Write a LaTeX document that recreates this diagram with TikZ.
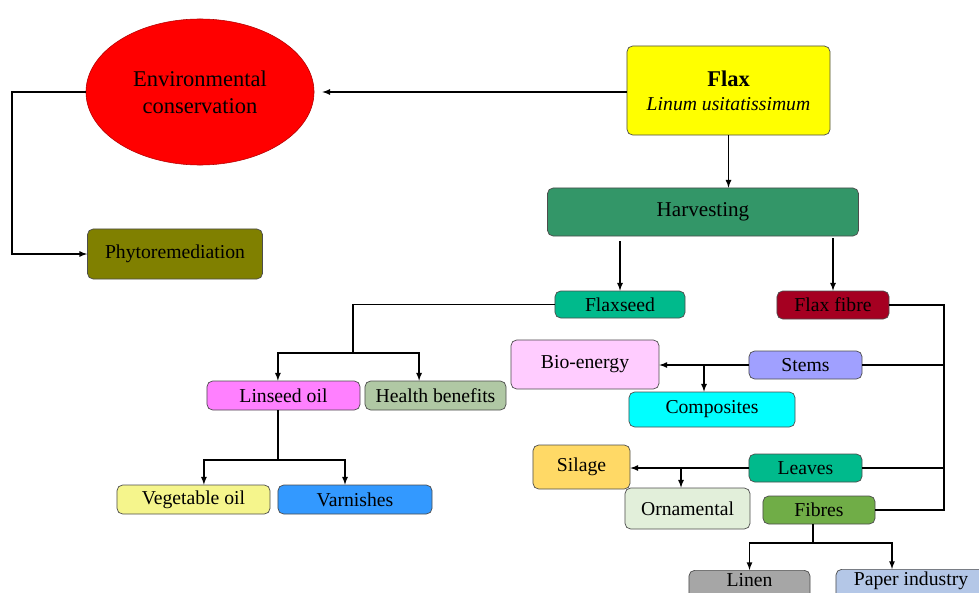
\documentclass[tikz,border=0pt]{standalone}
\usepackage{fontspec}
\setmainfont{Liberation Serif}
\usetikzlibrary{arrows,shapes.geometric}

\definecolor{flaxyellow}{RGB}{255,255,0}
\definecolor{harvgreen}{RGB}{51,150,104}
\definecolor{olivebox}{RGB}{128,128,0}
\definecolor{seedgreen}{RGB}{0,186,140}
\definecolor{fibrered}{RGB}{165,0,33}
\definecolor{biopink}{RGB}{255,204,255}
\definecolor{stemblue}{RGB}{160,160,255}
\definecolor{compcyan}{RGB}{0,255,255}
\definecolor{silageyel}{RGB}{255,217,102}
\definecolor{ornagreen}{RGB}{226,239,218}
\definecolor{fibresgreen}{RGB}{112,173,71}
\definecolor{linengray}{RGB}{166,166,166}
\definecolor{paperblue}{RGB}{180,199,231}
\definecolor{oilpink}{RGB}{255,128,255}
\definecolor{healthgreen}{RGB}{176,200,164}
\definecolor{vegyellow}{RGB}{245,245,140}
\definecolor{varnblue}{RGB}{51,153,255}

\begin{document}
\begin{tikzpicture}[x=0.025cm,y=-0.025cm]
\tikzstyle{every node}=[inner sep=1pt, font=\fontsize{14}{17}\selectfont]
\tikzstyle{box}=[draw=black!70, rounded corners=4pt, line width=0.5pt, minimum height=0.7cm]
\tikzstyle{cutbox}=[box, anchor=north, inner ysep=2pt, text depth=14pt]
\tikzstyle{link}=[line width=0.9pt]
\tikzstyle{arr}=[link,-latex]
\useasboundingbox (0,0) rectangle (979,592);

% top row
\draw (200,92) node (env) [ellipse, draw=red!70!black, fill=red, minimum width=5.7cm, minimum height=3.65cm, align=center, font=\fontsize{16}{19}\selectfont] {Environmental\\conservation};
\draw (728.5,90.5) node (flax) [box, fill=flaxyellow, minimum width=5.075cm, minimum height=2.225cm, align=center] {{\fontsize{16}{19}\selectfont\bfseries Flax}\\\itshape Linum usitatissimum};
\draw (703,212) node (harv) [box, fill=harvgreen, minimum width=7.775cm, minimum height=1.2cm, font=\fontsize{15}{18}\selectfont] {Harvesting};
\draw (175,254) node (phyto) [box, fill=olivebox, minimum width=4.375cm, minimum height=1.25cm] {Phytoremediation};

% second level
\draw (620,304.5) node (seed) [box, fill=seedgreen, minimum width=3.25cm, minimum height=0.675cm] {Flaxseed};
\draw (833,305) node (fibre) [box, fill=fibrered, minimum width=2.8cm] {Flax fibre};

% flaxseed products
\draw (283.5,395.5) node (oil) [box, fill=oilpink, minimum width=3.825cm, minimum height=0.725cm] {Linseed oil};
\draw (435.5,395.5) node (health) [box, fill=healthgreen, minimum width=3.525cm, minimum height=0.725cm] {Health benefits};
\draw (193.5,499.5) node (veg) [box, fill=vegyellow, minimum width=3.825cm, minimum height=0.725cm] {Vegetable oil};
\draw (355,499.5) node (varn) [box, fill=varnblue, minimum width=3.85cm, minimum height=0.725cm] {Varnishes};

% fibre products
\draw (805.5,365) node (stems) [box, fill=stemblue, minimum width=2.825cm] {Stems};
\draw (585,364.5) node (bio) [box, fill=biopink, minimum width=3.7cm, minimum height=1.225cm] {Bio-energy};
\draw (712,409.5) node (comp) [box, fill=compcyan, minimum width=4.15cm, minimum height=0.875cm] {Composites};
\draw (805.5,468) node (leaves) [box, fill=seedgreen, minimum width=2.825cm] {Leaves};
\draw (581.5,467) node (silage) [box, fill=silageyel, minimum width=2.425cm, minimum height=1.1cm] {Silage};
\draw (687.5,508.5) node (orna) [box, fill=ornagreen, minimum width=3.125cm, minimum height=1.025cm] {Ornamental};
\draw (819,510) node (fibres) [box, fill=fibresgreen, minimum width=2.8cm] {Fibres};
\draw (749.5,570) node (linen) [cutbox, fill=linengray, minimum width=3.025cm] {Linen};
\draw (911,569) node (paper) [cutbox, fill=paperblue, minimum width=3.75cm] {Paper industry};

% junctions
\coordinate (lft) at (12,92);
\coordinate (sj) at (353,353);
\coordinate (lj) at (278,460);
\coordinate (fb) at (944,510);
\coordinate (cj) at (704,365);
\coordinate (oj) at (681,468);
\coordinate (fj) at (813,543);

% connectors
\draw[arr, shorten >=0.2cm] (flax.west |- env.east) -- (env.east);
\draw[arr] (env.west) -- (lft) |- (phyto.west);
\draw[arr] (flax.south) -- (flax.south |- harv.north);
\draw[arr] ([yshift=-0.12cm]harv.south -| seed.north) -- (seed.north);
\draw[arr] ([yshift=-0.05cm]harv.south -| fibre.north) -- (fibre.north);
\draw[link] (seed.west) -| (sj);
\draw[arr] (sj) -| ([xshift=-0.14cm]oil.north);
\draw[arr] (sj) -| ([xshift=-0.41cm]health.north);
\draw[link] (lj |- oil.south) -- (lj);
\draw[arr] (lj) -| ([xshift=0.26cm]veg.north);
\draw[arr] (lj) -| ([xshift=-0.25cm]varn.north);
\draw[link] (fibre.east) -| (fb) -- (fibres.east);
\draw[link] (stems.east) -- (stems.east -| fb);
\draw[link] (leaves.east) -- (leaves.east -| fb);
\draw[arr] (stems.west) -- (stems.west -| bio.east);
\draw[arr] (cj) -- (cj |- comp.north);
\draw[arr] (leaves.west) -- (leaves.west -| silage.east);
\draw[arr] (oj) -- (oj |- orna.north);
\draw[link] (fj |- fibres.south) -- (fj);
\draw[arr] (fj) -| (linen.north);
\draw[arr] (fj) -| ([xshift=-0.475cm]paper.north);
\end{tikzpicture}
\end{document}
